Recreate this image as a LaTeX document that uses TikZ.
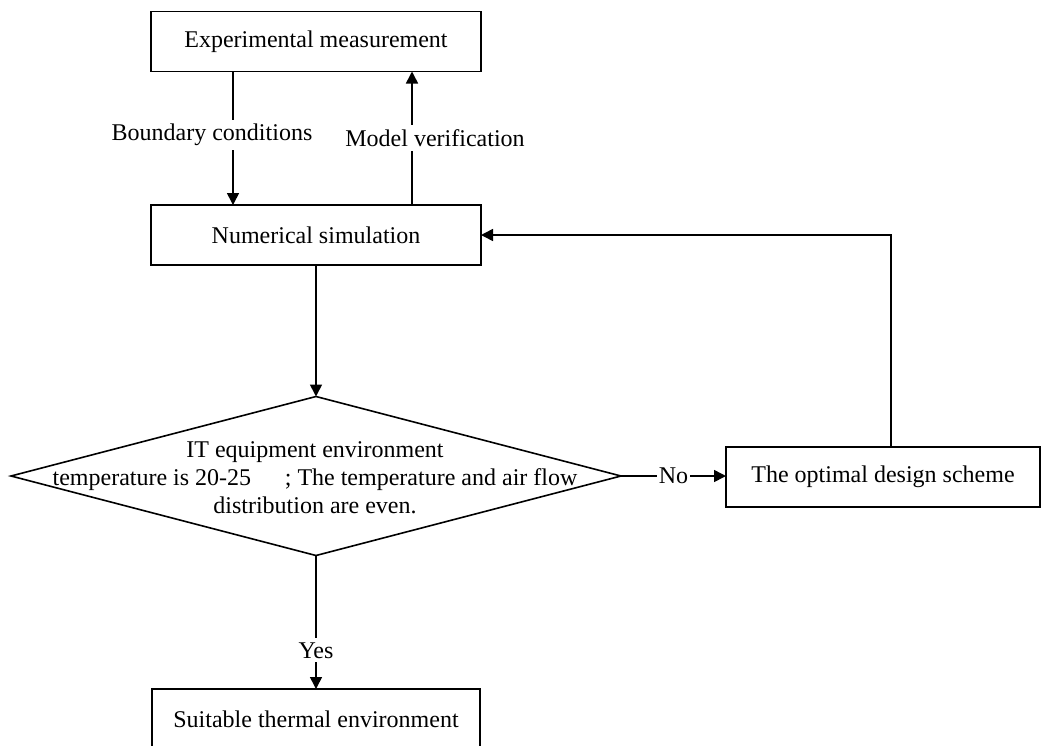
\documentclass[tikz,border=0pt]{standalone}
\usepackage{fontspec}
\setmainfont{Liberation Serif}
\usetikzlibrary{arrows.meta,shapes.geometric}
\begin{document}
\begin{tikzpicture}[x=0.5pt,y=-0.5pt,
  font=\fontsize{12}{14}\selectfont,
  box/.style={draw,line width=0.8pt,minimum width=165pt,minimum height=30pt,inner sep=0pt,outer sep=0pt},
  arr/.style={line width=0.8pt,-{Triangle[length=6pt,width=6pt]}},
  lbl/.style={fill=white,inner sep=2pt},
  dia/.style={draw,shape=diamond,line width=0.8pt,minimum width=305pt,minimum height=79.5pt,inner sep=0pt,outer sep=0pt}]
\useasboundingbox (0,0) rectangle (1044,745);
\clip (0,0) rectangle (1044,745);
% nodes
\node[box] (exp) at (316,41.5) {Experimental measurement};
\node[box] (num) at (316,235) {Numerical simulation};
\node[dia] (dec) at (316,476) {};
\node[align=center,inner sep=0pt] (dectext) at (315,478) {IT equipment environment\\temperature is 20-25\hspace{1.4em}; The temperature and air flow\\distribution are even.};
\node[box,minimum width=157pt] (opt) at (883,477) {The optimal design scheme};
\node[box,minimum width=164pt] (suit) at (316,719) {Suitable thermal environment};
% helper coordinates
\coordinate (bx) at (233,0);
\coordinate (mx) at (412,0);
\coordinate (fbx) at (891,0);
% connectors
\draw[arr] (exp.south -| bx) -- (num.north -| bx);
\draw[arr] (num.north -| mx) -- (exp.south -| mx);
\draw[arr] (num.south) -- (dec.north);
\draw[arr] (opt.north -| fbx) |- (num.east);
\draw[arr] (dec.east) -- (dec.east -| opt.west) node[lbl,pos=0.5,inner sep=1pt] (no) {No};
\draw[arr] (dec.south) -- (suit.north) node[lbl,pos=0.71] (yes) {Yes};
% labels over lines
\node[lbl] (bc) at (212,135) {Boundary conditions};
\node[lbl] (mv) at (435,138) {Model verification};
\end{tikzpicture}
\end{document}
